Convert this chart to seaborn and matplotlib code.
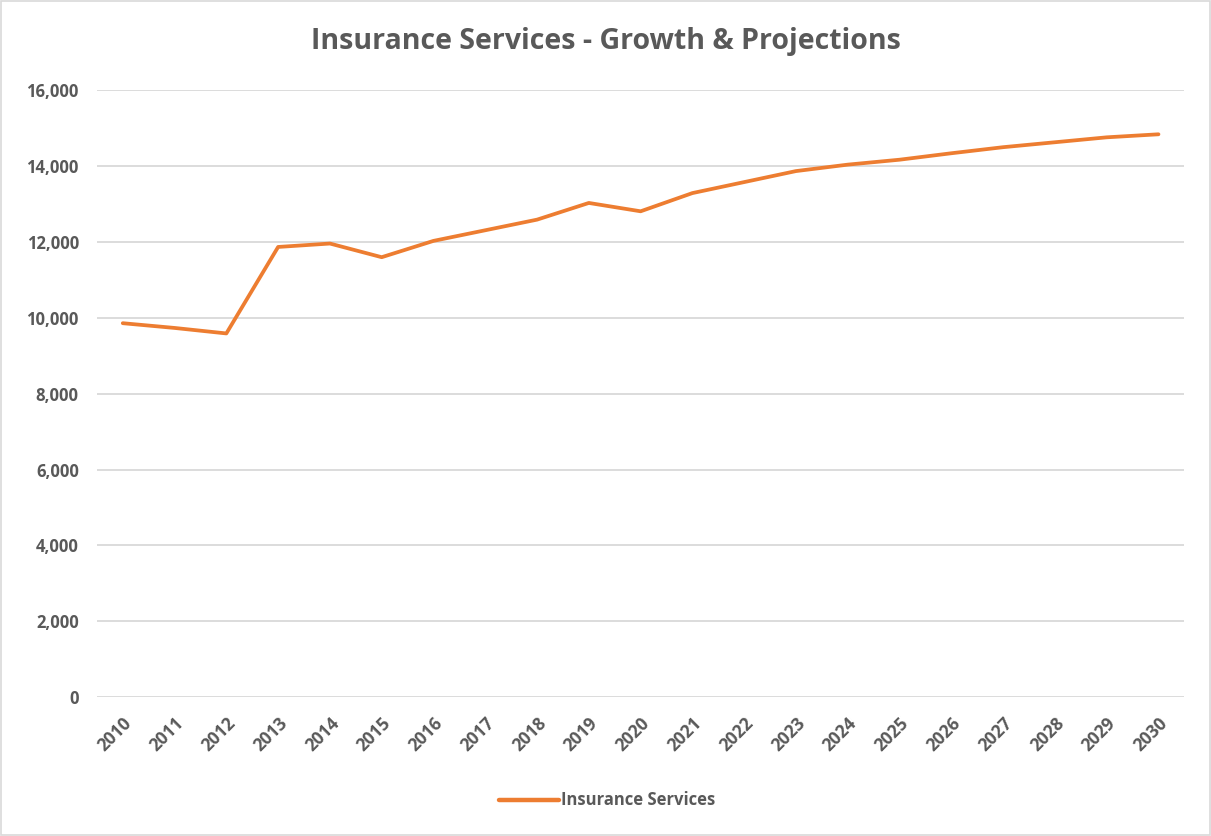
import matplotlib
matplotlib.use("Agg")
import matplotlib.pyplot as plt
import matplotlib.ticker as mticker
import seaborn as sns
import pandas as pd

years = list(range(2010, 2031))
insurance_services = [
    9860, 9735, 9590, 11870, 11960, 11600, 12030, 12310, 12590, 13030,
    12810, 13290, 13580, 13870, 14040, 14170, 14340, 14500, 14630, 14760, 14840,
]
series_name = "Insurance Services"
chart_title = "Insurance Services - Growth & Projections"

df = pd.DataFrame({"year": years, "value": insurance_services})

sns.set_theme(style="white")
plt.rcParams["font.family"] = ["Open Sans", "DejaVu Sans"]

fig = plt.figure(figsize=(12.11, 8.36), dpi=100)
ax = fig.add_axes([0.080, 0.166, 0.898, 0.726])

sns.lineplot(data=df, x="year", y="value", color="#ED7D31", linewidth=2.7,
             label=series_name, ax=ax)

ax.set_xlim(2009.5, 2030.5)
ax.set_ylim(0, 16000)
ax.set_yticks(range(0, 16001, 2000))
ax.yaxis.set_major_formatter(mticker.StrMethodFormatter("{x:,.0f}"))
ax.set_xticks(years)
ax.set_xticklabels([str(y) for y in years], rotation=45, ha="right",
                   rotation_mode="anchor")
ax.grid(axis="y", color="#d9d9d9", linewidth=1.3)
ax.set_axisbelow(True)
for s in ax.spines.values():
    s.set_visible(False)
ax.tick_params(axis="both", length=0, labelsize=12, labelcolor="#595959")
ax.tick_params(axis="x", labelsize=12.5, pad=12)
for lbl in ax.get_xticklabels() + ax.get_yticklabels():
    lbl.set_fontweight("bold")
ax.tick_params(axis="y", pad=13)
ax.set_xlabel("")
ax.set_ylabel("")

leg = ax.legend(loc="center", bbox_to_anchor=(0.469, -0.17), frameon=False,
                prop={"size": 12, "weight": "bold"}, labelcolor="#595959",
                handlelength=3.6, handletextpad=0.1)
for h in leg.get_lines():
    h.set_linewidth(3.2)

fig.suptitle(chart_title, y=0.968, fontsize=20.5, fontweight="bold",
             color="#595959")
fig.patches.append(plt.Rectangle((0.001, 0.001), 0.998, 0.998,
                                 transform=fig.transFigure, fill=False,
                                 edgecolor="#d9d9d9", linewidth=1.2))

fig.savefig("out.png", dpi=100)
